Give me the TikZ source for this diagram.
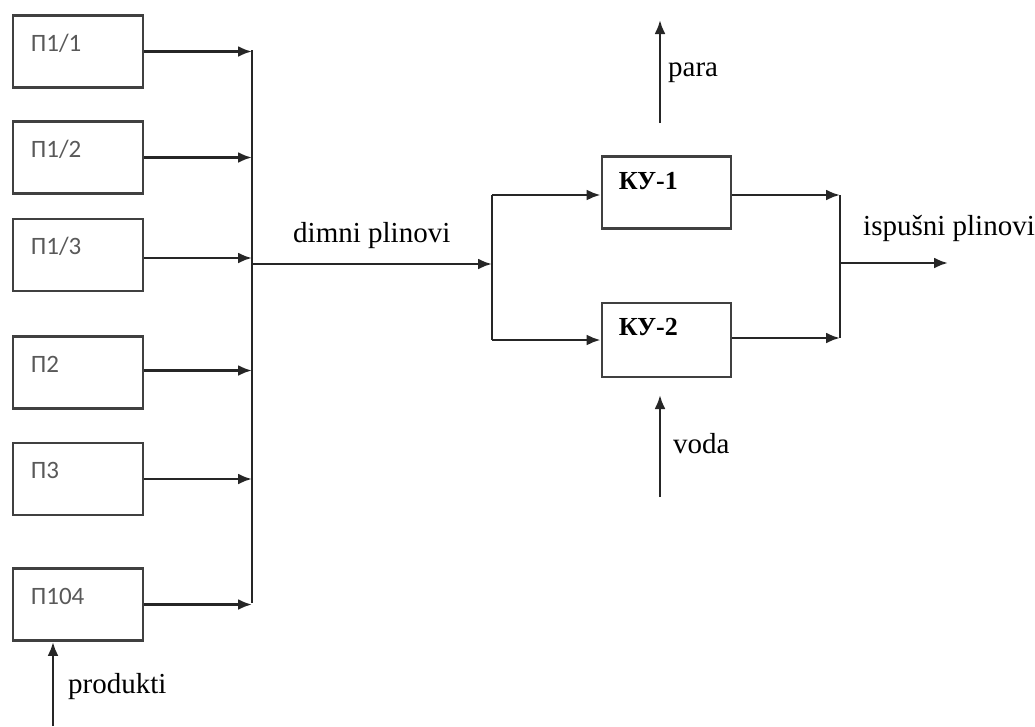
\documentclass[tikz,border=0pt]{standalone}
\usepackage{fontspec}
\setmainfont{Liberation Serif}
\newfontfamily\sansbox{Carlito}
\usetikzlibrary{arrows.meta,positioning}
\tikzset{
    >={Latex[length=14pt,width=11pt]},
    line/.style={
           draw=black!85, line width=2.6pt},
    pil/.style={
           line, ->},
    blok/.style={
           rectangle,
           draw=black!75, line width=2.8pt,
           minimum width=130pt,
           minimum height=72pt,
           inner sep=0pt},
    bloktxt/.style={
           anchor=base west, inner sep=0pt, text=black!65,
           font=\sansbox\fontsize{25pt}{28pt}\selectfont},
    kutxt/.style={
           anchor=base west, inner sep=0pt,
           font=\bfseries\fontsize{26pt}{29pt}\selectfont},
    tok/.style={
           anchor=base west, inner sep=0pt,
           font=\fontsize{29pt}{32pt}\selectfont}
}
\begin{document}
\begin{tikzpicture}[x=1pt,y=-1pt]
          \useasboundingbox (0,0) rectangle (1035,726);
          \def \bx {78}
          \node[blok](p11) at (\bx,51.5) {};
          \node[blok](p12) at (\bx,157.5) {};
          \node[blok](p13) at (\bx,255) {};
          \node[blok](p2) at (\bx,372.5) {};
          \node[blok](p3) at (\bx,479) {};
          \node[blok](p104) at (\bx,604.5) {};
          \node[blok, minimum width=129pt](ku1) at (666.5,192.5) {};
          \node[blok, minimum width=129pt, minimum height=74pt](ku2) at (666.5,340) {};
          \node[bloktxt] at ([shift={(19,37)}]p11.north west) {П1/1};
          \node[bloktxt] at ([shift={(19,37)}]p12.north west) {П1/2};
          \node[bloktxt] at ([shift={(19,37)}]p13.north west) {П1/3};
          \node[bloktxt] at ([shift={(19,37)}]p2.north west) {П2};
          \node[bloktxt] at ([shift={(19,37)}]p3.north west) {П3};
          \node[bloktxt] at ([shift={(19,37)}]p104.north west) {П104};
          \node[kutxt] at ([shift={(18,34)}]ku1.north west) {КУ-1};
          \node[kutxt] at ([shift={(18,34)}]ku2.north west) {КУ-2};
          \coordinate (sab1) at (252,50);
          \coordinate (sab2) at (252,603);
          \coordinate (dimS) at (252,264);
          \coordinate (dimE) at (492,264);
          \coordinate (raz1) at (492,195);
          \coordinate (raz2) at (492,340);
          \coordinate (izl1) at (840,195);
          \coordinate (izl2) at (840,338);
          \coordinate (ispS) at (840,263);
          \coordinate (ispE) at (948,263);
          \coordinate (paraS) at (660,123);
          \coordinate (paraE) at (660,20);
          \coordinate (vodaS) at (660,497);
          \coordinate (vodaE) at (660,395);
          \coordinate (prodS) at (53,726);
          \draw[pil] (p11.east) -- (p11.east -| sab1);
          \draw[pil] (p12.east) -- (p12.east -| sab1);
          \draw[pil] ([yshift=-3pt]p13.east) -- ([yshift=-3pt]p13.east -| sab1);
          \draw[pil] ([yshift=2pt]p2.east) -- ([yshift=2pt]p2.east -| sab1);
          \draw[pil] (p3.east) -- (p3.east -| sab1);
          \draw[pil] (p104.east) -- (p104.east -| sab1);
          \draw[line] (sab1) -- (sab2);
          \draw[pil] (dimS) -- (dimE);
          \draw[line] (raz1) -- (raz2);
          \draw[pil] (raz1) -- (raz1 -| ku1.west);
          \draw[pil] (raz2) -- (raz2 -| ku2.west);
          \draw[pil] (ku1.east |- izl1) -- (izl1);
          \draw[pil] (ku2.east |- izl2) -- (izl2);
          \draw[line] (izl1) -- (izl2);
          \draw[pil] (ispS) -- (ispE);
          \draw[pil] (paraS) -- (paraE);
          \draw[pil] (vodaS) -- (vodaE);
          \draw[pil] (prodS) -- (prodS |- p104.south);
          \node[tok] (dimni) at (293,242) {dimni plinovi};
          \node[tok] (isp) at (863,235) {ispušni plinovi};
          \node[tok] (para) at (668,76) {para};
          \node[tok] (voda) at (673,453) {voda};
          \node[tok] (prod) at (68,693) {produkti};
\end{tikzpicture}
\end{document}
